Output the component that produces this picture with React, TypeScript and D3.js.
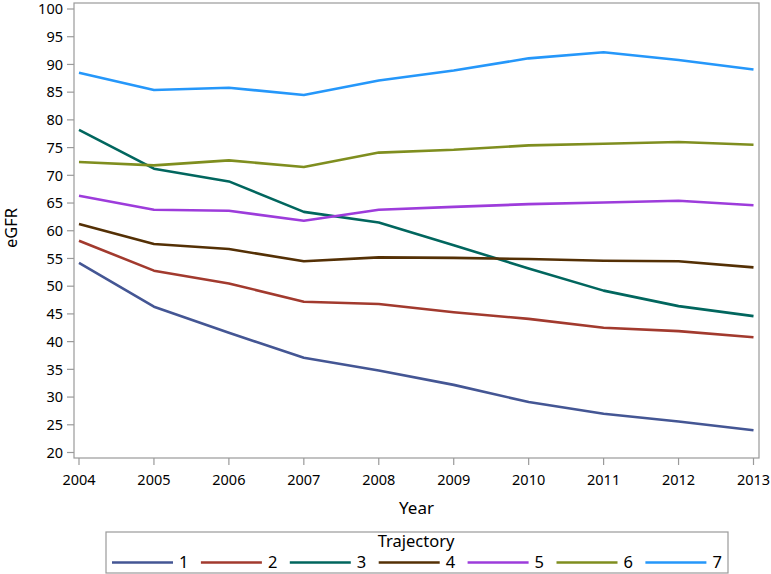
import React from "react";
import * as d3 from "d3";

const years = [2004, 2005, 2006, 2007, 2008, 2009, 2010, 2011, 2012, 2013];
const trajectories = ["1", "2", "3", "4", "5", "6", "7"];
const t1 = [54.2, 46.3, 41.6, 37.1, 34.8, 32.2, 29.1, 27.0, 25.6, 24.0];
const t2 = [58.2, 52.8, 50.5, 47.2, 46.8, 45.3, 44.1, 42.5, 41.9, 40.8];
const t3 = [78.2, 71.2, 68.9, 63.4, 61.5, 57.4, 53.2, 49.2, 46.4, 44.6];
const t4 = [61.2, 57.6, 56.7, 54.5, 55.2, 55.1, 54.9, 54.6, 54.5, 53.4];
const t5 = [66.3, 63.8, 63.6, 61.8, 63.8, 64.3, 64.8, 65.1, 65.4, 64.6];
const t6 = [72.4, 71.8, 72.7, 71.5, 74.1, 74.6, 75.4, 75.7, 76.0, 75.5];
const t7 = [88.5, 85.4, 85.8, 84.5, 87.1, 88.9, 91.1, 92.2, 90.8, 89.1];
const yTicks = [20, 25, 30, 35, 40, 45, 50, 55, 60, 65, 70, 75, 80, 85, 90, 95, 100];
const colors = ["#445694", "#A23A2E", "#01665E", "#543005", "#9D3CDB", "#7F8E1F", "#2597FA"];

const W = 771, H = 574;
const frame = { left: 74, right: 759, top: 3, bottom: 458 };
const font = "'Noto Sans', 'Open Sans', sans-serif";

export default function App() {
  const series = [t1, t2, t3, t4, t5, t6, t7];
  const x = d3.scaleLinear().domain([2004, 2013]).range([79, 753.5]);
  const y = d3.scaleLinear().domain([20, 100]).range([452.5, 9]);
  const line = d3.line<number>().x((_, i) => x(years[i])).y((d) => y(d));
  const axisColor = "#9a9a9a";
  const legend = { x: 106, y: 532, w: 622, h: 41 };
  const itemStart = 112, itemStep = 88.9, lineLen = 61;

  return (
    <svg width={W} height={H} style={{ position: "absolute", left: 0, top: 0, background: "#fff" }} fontFamily={font}>
      <rect x={frame.left} y={frame.top} width={frame.right - frame.left} height={frame.bottom - frame.top} fill="none" stroke={axisColor} strokeWidth={1.2} />
      {yTicks.map((t) => (
        <g key={t}>
          <line x1={frame.left - 7} x2={frame.left} y1={y(t)} y2={y(t)} stroke={axisColor} strokeWidth={1.2} />
          <text x={frame.left - 11} y={y(t)} dy="0.36em" textAnchor="end" fontSize={14.5} fill="#000">{t}</text>
        </g>
      ))}
      {years.map((yr) => (
        <g key={yr}>
          <line x1={x(yr)} x2={x(yr)} y1={frame.bottom} y2={frame.bottom + 7} stroke={axisColor} strokeWidth={1.2} />
          <text x={x(yr)} y={485} textAnchor="middle" fontSize={14.5} fill="#000">{yr}</text>
        </g>
      ))}
      <text x={(frame.left + frame.right) / 2} y={514} textAnchor="middle" fontSize={17} fill="#000">Year</text>
      <text transform={`translate(17, 228) rotate(-90)`} textAnchor="middle" fontSize={16.5} fill="#000">eGFR</text>
      {series.map((s, i) => (
        <path key={i} d={line(s) || ""} fill="none" stroke={colors[i]} strokeWidth={2.6} strokeLinejoin="round" />
      ))}
      <rect x={legend.x} y={legend.y} width={legend.w} height={legend.h} fill="none" stroke={axisColor} strokeWidth={1.2} />
      <text x={416} y={547} textAnchor="middle" fontSize={16.5} fill="#000">Trajectory</text>
      {trajectories.map((tr, i) => {
        const lx = itemStart + i * itemStep;
        return (
          <g key={tr}>
            <line x1={lx} x2={lx + lineLen} y1={562.5} y2={562.5} stroke={colors[i]} strokeWidth={2.6} />
            <text x={lx + lineLen + 6} y={562.5} dy="0.36em" fontSize={16.5} fill="#000">{tr}</text>
          </g>
        );
      })}
    </svg>
  );
}
